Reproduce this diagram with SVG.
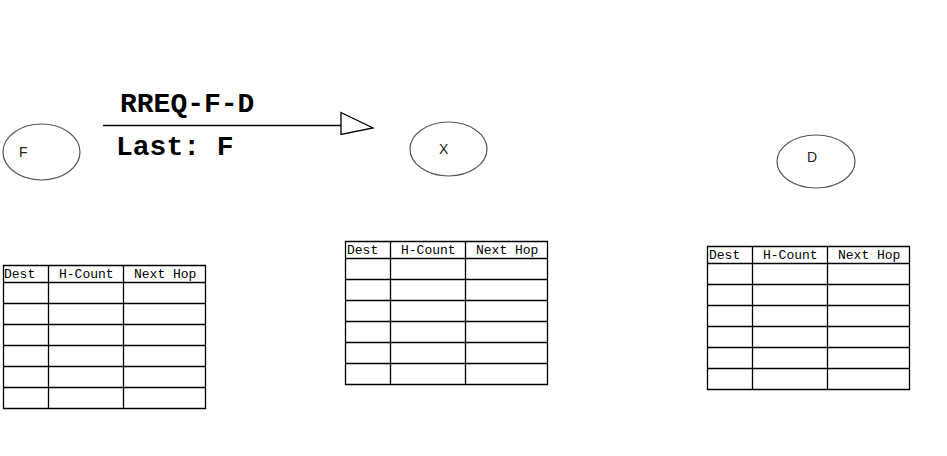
<svg xmlns="http://www.w3.org/2000/svg" width="947" height="456" viewBox="0 0 947 456">
<style>
.node{fill:#fff;stroke:#555;stroke-width:1.2}
.nl{font-family:"Liberation Sans",Arial,sans-serif;font-size:14px;fill:#222}
.grid{fill:none;stroke:#000;stroke-width:1.3}
.th{font-family:"Liberation Mono","Courier New",monospace;font-size:13px;fill:#000}
.lbl{font-family:"Liberation Mono","Courier New",monospace;font-size:28px;font-weight:bold;fill:#000}
.conn{stroke:#000;stroke-width:1.3;fill:none}
</style>
<defs>
<path id="grid" class="grid" d="M0.5,0.5H202.5V143.5H0.5Z M0.5,17.5H202.5 M0.5,38.5H202.5 M0.5,59.5H202.5 M0.5,80.5H202.5 M0.5,101.5H202.5 M0.5,122.5H202.5 M45.5,0.5V143.5 M120.5,0.5V143.5"/>
</defs>
<rect width="947" height="456" fill="#fff"/>
<g id="node-F">
<ellipse class="node" cx="41.5" cy="152" rx="38.5" ry="28"/>
<text class="nl" x="19" y="157">F</text>
</g>
<g id="node-X">
<ellipse class="node" cx="448.5" cy="149" rx="38.5" ry="27"/>
<text class="nl" x="439" y="154">X</text>
</g>
<g id="node-D">
<ellipse class="node" cx="816" cy="161.5" rx="39" ry="26.5"/>
<text class="nl" x="807" y="162">D</text>
</g>
<g id="connectors">
<line class="conn" x1="103" y1="125.5" x2="341" y2="125.5"/>
<polygon class="conn" fill="#fff" points="341,112.5 373,128 341,134.5"/>
<text class="lbl" x="120" y="112">RREQ-F-D</text>
<text class="lbl" x="116" y="155">Last: F</text>
</g>
<g id="table-F">
<use href="#grid" x="3" y="265"/>
<text class="th" x="4" y="278">Dest</text>
<text class="th" x="59" y="278">H-Count</text>
<text class="th" x="134" y="278">Next Hop</text>
</g>
<g id="table-X">
<use href="#grid" x="345" y="241"/>
<text class="th" x="347" y="254">Dest</text>
<text class="th" x="401" y="254">H-Count</text>
<text class="th" x="476" y="254">Next Hop</text>
</g>
<g id="table-D">
<use href="#grid" x="707" y="246"/>
<text class="th" x="709" y="259">Dest</text>
<text class="th" x="763" y="259">H-Count</text>
<text class="th" x="838" y="259">Next Hop</text>
</g>
</svg>
